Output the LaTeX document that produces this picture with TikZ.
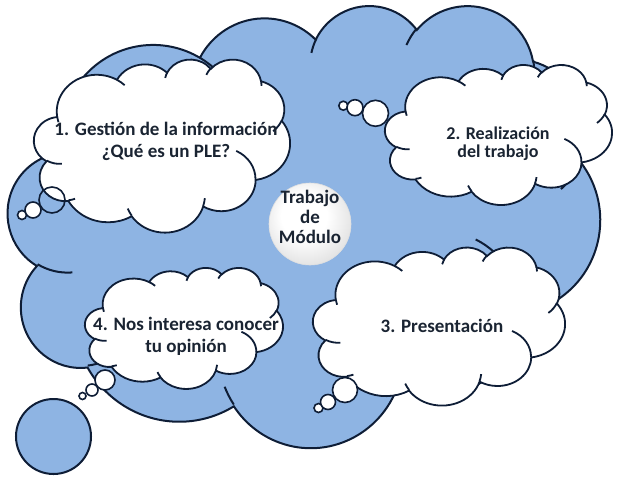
\documentclass[tikz,border=0pt]{standalone}
\usepackage{fontspec}
\setmainfont{Carlito}

% cloud outline: x, y, width, height, style
\newcommand\pptcloud[5]{%
  \begin{scope}[shift={(#1,#2)},xscale=#3/432,yscale=#4/432]
    \path[#5] (39.00,143.70)
      \foreach \rx/\ry/\st/\sw
        [evaluate=\st as \ta using {atan2(\rx*sin(\st),\ry*cos(\st))},
         evaluate=\st as \tb using {atan2(\rx*sin(\st+\sw),\ry*cos(\st+\sw))},
         evaluate=\st as \tc using {\tb+360*round((\ta+\sw-\tb)/360)}]
        in {67.53/91.90/-190.4875/123.7805, 53.33/72.67/-144.1024/89.9452,
            43.65/59.45/-145.8079/99.7230, 48.57/65.95/-130.9861/117.2417,
            53.33/72.73/-78.7089/109.0269, 67.75/92.20/-46.2673/130.2690,
            57.85/78.67/0.6250/114.0333, 67.52/92.15/22.4516/115.1726,
            77.20/105.43/66.2426/75.7110, 43.60/59.18/-274.9421/146.7356,
            43.45/59.45/-246.8285/152.5189}
        {arc[x radius=\rx,y radius=\ry,start angle=\ta,end angle=\tc]} -- cycle;
    \path[#5,fill=none]
      \foreach \mx/\my/\rx/\ry/\st/\sw
        [evaluate=\st as \ta using {atan2(\rx*sin(\st),\ry*cos(\st))},
         evaluate=\st as \tb using {atan2(\rx*sin(\st+\sw),\ry*cos(\st+\sw))},
         evaluate=\st as \tc using {\tb+360*round((\ta+\sw-\tb)/360)}]
        in {46.93/261.77/43.45/59.45/86.742/26.430, 69.28/348.99/43.60/59.18/73.611/11.448,
            164.78/390.90/67.52/92.15/137.624/14.081, 288.27/347.51/67.52/92.15/6.453/15.998,
            341.29/229.54/57.85/78.67/-70.292/70.917, 417.98/153.54/53.33/72.73/30.318/27.752,
            383.24/54.26/48.57/65.95/-13.744/14.859, 290.78/39.52/48.57/65.95/-149.182/18.195,
            221.41/47.20/43.65/59.45/-163.494/17.686, 140.00/51.92/67.53/91.90/-66.707/12.319,
            41.27/157.89/67.53/91.90/157.654/11.858}
        {(\mx,\my) arc[x radius=\rx,y radius=\ry,start angle=\ta,end angle=\tc]};
  \end{scope}}

\pgfdeclareradialshading{modball}{\pgfpoint{-5bp}{7bp}}{color(0bp)=(white);
  color(14bp)=(white); color(30bp)=(black!12); color(40bp)=(black!28);
  color(46bp)=(black!38); color(50bp)=(black!38)}

\begin{document}
\begin{tikzpicture}[x=1pt,y=-1pt,
  bigcloud/.style={fill=cloudblue,draw=cloudline,line width=2pt},
  smallcloud/.style={fill=white,draw=cloudline,line width=1.8pt},
  bubble/.style={fill=white,draw=cloudline,line width=1.6pt},
  cloudtext/.style={text=inkgray,font=\bfseries\fontsize{19}{22}\selectfont,align=center}]
\definecolor{cloudblue}{RGB}{142,180,227}
\definecolor{cloudline}{RGB}{14,29,54}
\definecolor{inkgray}{RGB}{26,36,50}

\useasboundingbox (0,0) rectangle (620,480);

% big cloud
\pptcloud{8}{4.6}{592}{442}{bigcloud}
\draw[bigcloud] (53.5,436.5) circle[radius=37.5];

% cloud 1
\pptcloud{34}{59}{256}{173}{smallcloud}
\draw[bubble] (22,215) circle[radius=4.5];
\draw[bubble] (33,210) circle[radius=8];
\draw[bubble,fill=none] (52,200) circle[radius=13];

% cloud 2
\pptcloud{385}{64.5}{227}{140}{smallcloud}
\draw[bubble] (343.3,105.7) circle[radius=4.5];
\draw[bubble] (355,107.7) circle[radius=8];
\draw[bubble] (375.5,113.3) circle[radius=13];

% cloud 3
\pptcloud{313}{247}{252}{158}{smallcloud}
\draw[bubble] (318.5,408) circle[radius=4.5];
\draw[bubble] (328,402) circle[radius=7.5];
\draw[bubble] (345,390) circle[radius=12.5];

% cloud 4
\pptcloud{85}{267.5}{198}{121}{smallcloud}
\draw[bubble] (82.5,396) circle[radius=3.5];
\draw[bubble] (92,390) circle[radius=6];
\draw[bubble] (105,380) circle[radius=10];

% centre
\shade[shading=modball,draw=black!12,line width=0.6pt] (310,224) circle[radius=41];

\node[cloudtext] (gestion) at (166,141.5) {1. Gestión de la información\\¿Qué es un PLE?};
\node[cloudtext,font=\bfseries\fontsize{18}{18}\selectfont] (realizacion) at (498,144) {2. Realización\\del trabajo};
\node[cloudtext,anchor=base] (presentacion) at (442,332) {3. Presentación};
\node[cloudtext] (opinion) at (186,336.5) {4. Nos interesa conocer\\tu opinión};
\node[cloudtext,font=\bfseries\fontsize{19}{20}\selectfont] (modulo) at (310,217) {Trabajo\\de\\Módulo};
\end{tikzpicture}
\end{document}
